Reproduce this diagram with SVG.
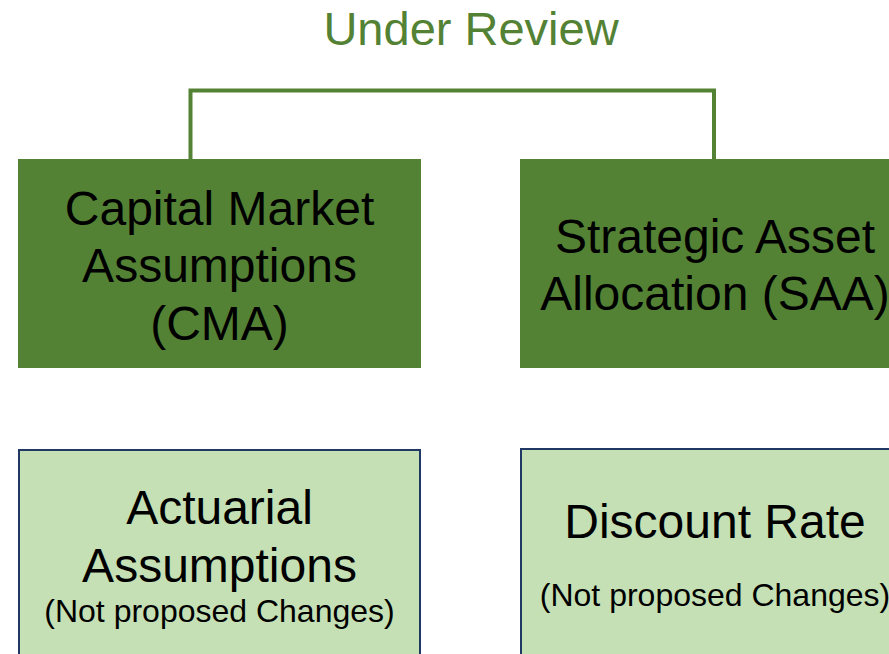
<svg xmlns="http://www.w3.org/2000/svg" width="889" height="654" viewBox="0 0 889 654">
<style>
.t{font-family:"Liberation Sans",Arial,sans-serif;text-anchor:middle;fill:#000}
.big{font-size:48px}
.small{font-size:32px}
.dark{fill:#548235}
.light{fill:#C5E0B4;stroke:#1F3864;stroke-width:2}
.conn{fill:none;stroke:#548235;stroke-width:4}
</style>
<rect width="889" height="654" fill="#fff"/>
<text id="title" class="t" x="471" y="45" style="font-size:47px;fill:#548235">Under Review</text>
<g id="connectors">
<path class="conn" d="M190.5 159 V90.5 H714 V159"/>
</g>
<g id="cma">
<rect class="dark" x="18" y="159" width="403" height="209"/>
<text class="t big" x="219.5" y="225">Capital Market</text>
<text class="t big" x="219.5" y="282">Assumptions</text>
<text class="t big" x="219.5" y="340">(CMA)</text>
</g>
<g id="saa">
<rect class="dark" x="520" y="159" width="400" height="209"/>
<text class="t big" x="715" y="253">Strategic Asset</text>
<text class="t big" x="715" y="310">Allocation (SAA)</text>
</g>
<g id="actuarial">
<rect class="light" x="19" y="450" width="401" height="220"/>
<text class="t big" x="219.5" y="524">Actuarial</text>
<text class="t big" x="219.5" y="582">Assumptions</text>
<text class="t small" x="219.5" y="622">(Not proposed Changes)</text>
</g>
<g id="discount">
<rect class="light" x="521" y="449" width="400" height="220"/>
<text class="t big" x="715" y="538">Discount Rate</text>
<text class="t small" x="715" y="606">(Not proposed Changes)</text>
</g>
</svg>
